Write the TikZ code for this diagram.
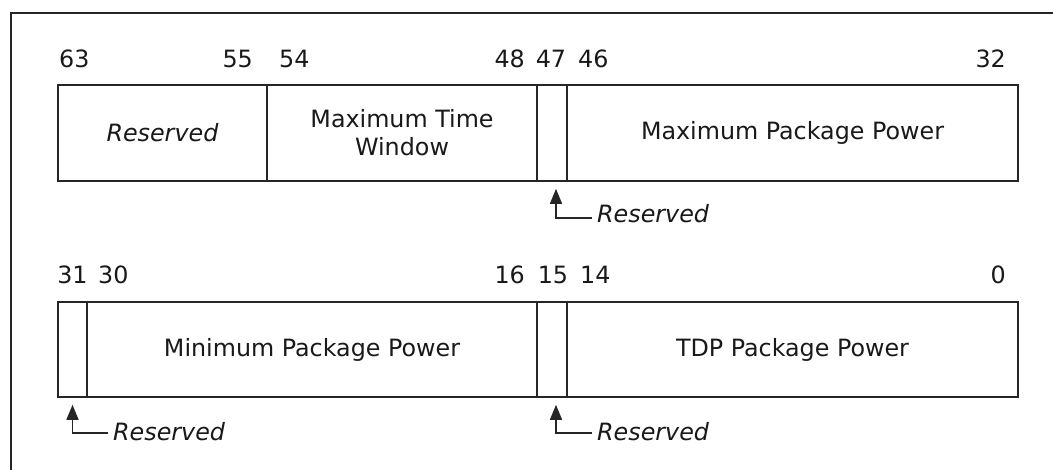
\documentclass[tikz,border=0pt]{standalone}
\usepackage{fontspec}
\setmainfont{DejaVu Sans}
\usetikzlibrary{arrows.meta,calc}
\begin{document}
\begin{tikzpicture}[x=1pt,y=-1pt,
  every node/.style={font=\fontsize{23.8}{28}\selectfont, text=black!90},
  field/.style={draw=black!85, line width=1.6pt, inner sep=0pt, minimum height=96pt, align=center},
  bitlbl/.style={inner sep=0pt},
  resarrow/.style={draw=black!85, line width=1.5pt, -{Triangle[length=15pt,width=12pt]}, shorten >=7pt},
  frameline/.style={draw=black!85, line width=1.5pt}]
\useasboundingbox (0,0) rectangle (1053,470);
\draw[frameline] (11,471) -- (11,13) -- (1054,13);
% Row 1
\node[field, minimum width=209pt] (f63) at (162.5,133) {\textit{Reserved}};
\node[field, minimum width=270pt] (f54) at (402,133) {Maximum Time\\Window};
\node[field, minimum width=30pt] (f47) at (552,133) {};
\node[field, minimum width=451pt] (f46) at (792.5,133) {Maximum Package Power};
% Row 1 bit labels
\node[bitlbl, anchor=base west] (b63) at (59,68) {63};
\node[bitlbl, anchor=base east] (b55) at (253,68) {55};
\node[bitlbl, anchor=base west] (b54) at (279,68) {54};
\node[bitlbl, anchor=base east] (b48) at (525,68) {48};
\node[bitlbl, anchor=base] (b47) at (551,68) {47};
\node[bitlbl, anchor=base west] (b46) at (578,68) {46};
\node[bitlbl, anchor=base east] (b32) at (1006,68) {32};
% Row 2
\node[field, minimum width=29pt, minimum height=95pt] (f31) at (72.5,349.5) {};
\node[field, minimum width=450pt, minimum height=95pt] (f30) at (312,349.5) {Minimum Package Power};
\node[field, minimum width=30pt, minimum height=95pt] (f15) at (552,349.5) {};
\node[field, minimum width=451pt, minimum height=95pt] (f14) at (792.5,349.5) {TDP Package Power};
% Row 2 bit labels
\node[bitlbl, anchor=base] (b31) at (72.5,284) {31};
\node[bitlbl, anchor=base west] (b30) at (98,284) {30};
\node[bitlbl, anchor=base east] (b16) at (525,284) {16};
\node[bitlbl, anchor=base] (b15) at (553,284) {15};
\node[bitlbl, anchor=base west] (b14) at (580,284) {14};
\node[bitlbl, anchor=base east] (b0) at (1006,284) {0};
% Reserved callouts
\node[bitlbl, anchor=base west] (r47) at (597,223) {\textit{Reserved}};
\node[bitlbl, anchor=base west] (r31) at (113,440) {\textit{Reserved}};
\node[bitlbl, anchor=base west] (r15) at (597,440) {\textit{Reserved}};
\draw[resarrow] ($(r47.base west)+(-5,-5)$) -| ([xshift=4pt]f47.south);
\draw[resarrow] ($(r31.base west)+(-5,-7)$) -| (f31.south);
\draw[resarrow] ($(r15.base west)+(-5,-7)$) -| ([xshift=4pt]f15.south);
\end{tikzpicture}
\end{document}
